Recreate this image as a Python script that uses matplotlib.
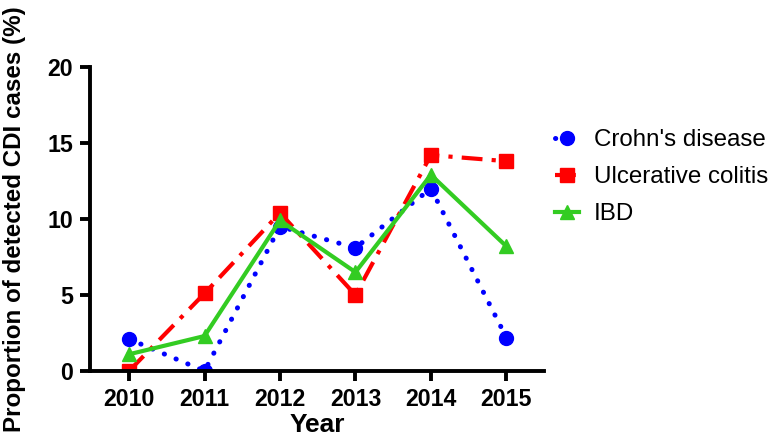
import matplotlib.pyplot as plt

years = [2010, 2011, 2012, 2013, 2014, 2015]
crohns = [2.1, 0.0, 9.5, 8.1, 12.0, 2.2]
uc = [0.0, 5.1, 10.4, 5.0, 14.2, 13.8]
ibd = [1.1, 2.3, 9.9, 6.5, 12.9, 8.2]
yticks = [0, 5, 10, 15, 20]

plt.rcParams["font.family"] = ["Liberation Sans", "DejaVu Sans"]

fig = plt.figure(figsize=(7.74, 4.43), dpi=100)
ax = fig.add_axes([0.116, 0.1625, 0.587, 0.6865])

ax.plot(years, crohns, color="#0000ff", linestyle=(0, (0.05, 2.5)), dash_capstyle="round",
        linewidth=3.6, marker="o", markersize=10, label="Crohn's disease")
ax.plot(years, uc, color="#ff0000", linestyle=(0, (5, 2.2, 1, 2.2)), linewidth=3,
        marker="s", markersize=10, label="Ulcerative colitis")
ax.plot(years, ibd, color="#33cc22", linestyle="-", linewidth=3,
        marker="^", markersize=10, label="IBD")

ax.set_xlim(2009.48, 2015.5)
ax.set_ylim(0, 20)
ax.set_xticks(years)
ax.set_yticks(yticks)
for lbl in ax.get_xticklabels() + ax.get_yticklabels():
    lbl.set_fontweight("bold")
ax.tick_params(labelsize=16.7, width=2.8, length=7, direction="out", pad=5)

ax.spines["top"].set_visible(False)
ax.spines["right"].set_visible(False)
for s in ["left", "bottom"]:
    ax.spines[s].set_linewidth(2.8)

ax.set_xlabel("Year", fontsize=19, fontweight="bold", labelpad=2)
ax.set_ylabel("Proportion of detected CDI cases (%)", fontsize=17.4, fontweight="bold", labelpad=15)

fig.legend(loc="upper left", bbox_to_anchor=(0.717, 0.708), frameon=False, fontsize=17.4,
           handlelength=1.0, handletextpad=0.6, labelspacing=0.62, borderpad=0, borderaxespad=0)

fig.savefig("out.png", dpi=100)
